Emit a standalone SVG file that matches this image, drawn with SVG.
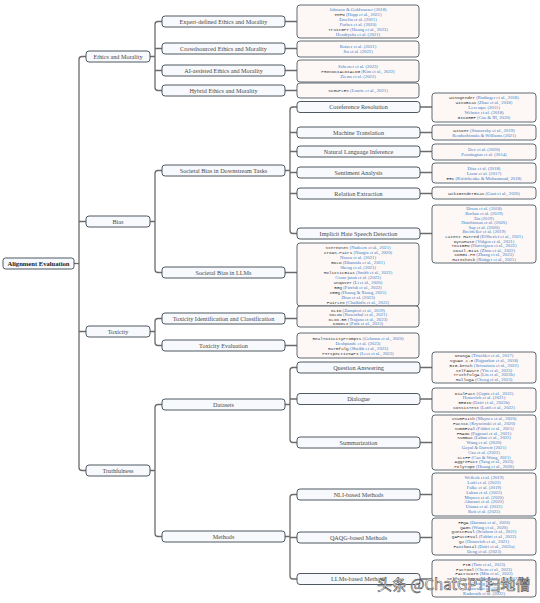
<svg xmlns="http://www.w3.org/2000/svg" width="540" height="603" viewBox="0 0 540 603">
<style>
.bg{fill:#ffffff}
.n rect{fill:#f7f9fc;stroke:#4e5963;stroke-width:1}
.lf rect{fill:#fdf8f6;stroke:#4e5963;stroke-width:0.9}
.t{font-family:"Liberation Serif",serif;font-size:6.2px;fill:#4a4a4a;text-anchor:middle}
.rt{font-family:"Liberation Serif",serif;font-size:6.6px;font-weight:bold;fill:#222;text-anchor:middle}
.lf text{font-family:"Liberation Serif",serif;font-size:4.7px;fill:#3a78c4;text-anchor:middle}
.m{font-family:"Liberation Mono",monospace;font-size:4.3px;fill:#333333}
.c path{fill:none;stroke:#6b6b6b;stroke-width:1.3}
.wm{font-family:"Noto Sans CJK SC","Liberation Sans",sans-serif;font-size:15px;fill:#ffffff;stroke:#555;stroke-width:0.6}
</style>
<rect class="bg" x="0" y="0" width="540" height="603"/>

<g class="c" id="connectors">
<path d="M74,263.5H79"/>
<path d="M86,56.5H82Q79,56.5 79,59.5V467.5Q79,470.5 82,470.5H86M79,221.5H86M79,331.5H86"/>
<path d="M150,56.5H155M162,21.5H158Q155,21.5 155,24.5V87.5Q155,90.5 158,90.5H162M155,48.5H162M155,70.5H162"/>
<path d="M150,221.5H155M162,170.5H158Q155,170.5 155,173.5V269.5Q155,272.5 158,272.5H162"/>
<path d="M150,331.5H155M162,318.5H158Q155,318.5 155,321.5V342.5Q155,345.5 158,345.5H162"/>
<path d="M150,470.5H155M162,404.5H158Q155,404.5 155,407.5V533.5Q155,536.5 158,536.5H162"/>
<path d="M285,21.5H297M285,48.5H297M285,70.5H297M285,90.5H297"/>
<path d="M285,170.5H290M297,107H293Q290,107 290,110V230.5Q290,233.5 293,233.5H297M290,132.5H297M290,151.5H297M290,172.5H297M290,193.5H297"/>
<path d="M285,272.5H297M285,318.5H297M285,345.5H297"/>
<path d="M285,404.5H290M297,367.5H293Q290,367.5 290,370.5V439.5Q290,442.5 293,442.5H297M290,399H297"/>
<path d="M285,536.5H290M297,494.5H293Q290,494.5 290,497.5V576Q290,579 293,579H297M290,537.5H297"/>
<path d="M420,107H432M420,132.5H432M420,151.5H432M420,172.5H432M420,193.5H432M420,233.5H432"/>
<path d="M420,367.5H432M420,399H432M420,442.5H432M420,494.5H432M420,537.5H432M420,579H432"/>
</g>

<g class="n" id="root"><rect x="3" y="258" width="71" height="11" rx="2.5"/><text class="rt" x="38.5" y="265.8">Alignment Evaluation</text></g>

<g class="n" id="ethics"><rect x="86" y="51" width="64" height="11" rx="3"/><text class="t" x="118" y="58.6">Ethics and Morality</text></g>
<g class="n" id="bias"><rect x="86" y="216" width="64" height="11" rx="3"/><text class="t" x="118" y="223.6">Bias</text></g>
<g class="n" id="toxicity"><rect x="86" y="326" width="64" height="11" rx="3"/><text class="t" x="118" y="333.6">Toxicity</text></g>
<g class="n" id="truthfulness"><rect x="86" y="465" width="64" height="11" rx="3"/><text class="t" x="118" y="472.6">Truthfulness</text></g>

<g class="n" id="expert"><rect x="162" y="16" width="123" height="11" rx="3"/><text class="t" x="223.5" y="23.6">Expert-defined Ethics and Morality</text></g>
<g class="n" id="crowd"><rect x="162" y="43" width="123" height="11" rx="3"/><text class="t" x="223.5" y="50.6">Crowdsourced Ethics and Morality</text></g>
<g class="n" id="ai"><rect x="162" y="65" width="123" height="11" rx="3"/><text class="t" x="223.5" y="72.6">AI-assisted Ethics and Morality</text></g>
<g class="n" id="hybrid"><rect x="162" y="85" width="123" height="11" rx="3"/><text class="t" x="223.5" y="92.6">Hybrid Ethics and Morality</text></g>
<g class="n" id="downstream"><rect x="162" y="165" width="123" height="11" rx="3"/><text class="t" x="223.5" y="172.6">Societal Bias in Downstream Tasks</text></g>
<g class="n" id="llmbias"><rect x="162" y="267" width="123" height="11" rx="3"/><text class="t" x="223.5" y="274.6">Societal Bias in LLMs</text></g>
<g class="n" id="toxid"><rect x="162" y="313" width="123" height="11" rx="3"/><text class="t" x="223.5" y="320.6">Toxicity Identification and Classification</text></g>
<g class="n" id="toxeval"><rect x="162" y="340" width="123" height="11" rx="3"/><text class="t" x="223.5" y="347.6">Toxicity Evaluation</text></g>
<g class="n" id="datasets"><rect x="162" y="399" width="123" height="11" rx="3"/><text class="t" x="223.5" y="406.6">Datasets</text></g>
<g class="n" id="methods"><rect x="162" y="531" width="123" height="11" rx="3"/><text class="t" x="223.5" y="538.6">Methods</text></g>

<g class="n" id="coref"><rect x="297" y="101.5" width="123" height="11" rx="3"/><text class="t" x="358.5" y="109.1">Coreference Resolution</text></g>
<g class="n" id="mt"><rect x="297" y="127" width="123" height="11" rx="3"/><text class="t" x="358.5" y="134.6">Machine Translation</text></g>
<g class="n" id="nli"><rect x="297" y="146" width="123" height="11" rx="3"/><text class="t" x="358.5" y="153.6">Natural Language Inference</text></g>
<g class="n" id="sentiment"><rect x="297" y="167" width="123" height="11" rx="3"/><text class="t" x="358.5" y="174.6">Sentiment Analysis</text></g>
<g class="n" id="relation"><rect x="297" y="188" width="123" height="11" rx="3"/><text class="t" x="358.5" y="195.6">Relation Extraction</text></g>
<g class="n" id="hate"><rect x="297" y="228" width="123" height="11" rx="3"/><text class="t" x="358.5" y="235.6">Implicit Hate Speech Detection</text></g>
<g class="n" id="qa"><rect x="297" y="362" width="123" height="11" rx="3"/><text class="t" x="358.5" y="369.6">Question Answering</text></g>
<g class="n" id="dialogue"><rect x="297" y="393.5" width="123" height="11" rx="3"/><text class="t" x="358.5" y="401.1">Dialogue</text></g>
<g class="n" id="summ"><rect x="297" y="437" width="123" height="11" rx="3"/><text class="t" x="358.5" y="444.6">Summarization</text></g>
<g class="n" id="nlim"><rect x="297" y="489" width="123" height="11" rx="3"/><text class="t" x="358.5" y="496.6">NLI-based Methods</text></g>
<g class="n" id="qaqg"><rect x="297" y="532" width="123" height="11" rx="3"/><text class="t" x="358.5" y="539.6">QAQG-based Methods</text></g>
<g class="n" id="llmm"><rect x="297" y="573.5" width="123" height="11" rx="3"/><text class="t" x="358.5" y="581.1">LLMs-based Methods</text></g>

<g class="lf" id="leaf-expert"><rect x="297" y="5" width="122" height="33" rx="3"/>
<text x="358" y="11">Johnson &amp; Goldwasser (2018)</text>
<text x="358" y="15.9"><tspan class="m">eMFD</tspan> (Hopp et al., 2021)</text>
<text x="358" y="20.8">Emelin et al. (2021)</text>
<text x="358" y="25.7">Forbes et al. (2020)</text>
<text x="358" y="30.6"><tspan class="m">TrustGPT</tspan> (Huang et al., 2023)</text>
<text x="358" y="35.5">Hendrycks et al. (2021)</text>
</g>
<g class="lf" id="leaf-crowd"><rect x="297" y="41" width="122" height="16" rx="3"/>
<text x="358" y="48.3">Botzer et al. (2021)</text>
<text x="358" y="53.2">Jin et al. (2022)</text>
</g>
<g class="lf" id="leaf-ai"><rect x="297" y="60" width="122" height="22" rx="3"/>
<text x="358" y="67.8">Scherrer et al. (2023)</text>
<text x="358" y="72.7"><tspan class="m">PROSOCIALDIALOG</tspan> (Kim et al., 2022)</text>
<text x="358" y="77.6">Ziems et al. (2022)</text>
</g>
<g class="lf" id="leaf-hybrid"><rect x="297" y="83" width="122" height="15" rx="3"/>
<text x="358" y="92.2"><tspan class="m">SCRUPLES</tspan> (Lourie et al., 2021)</text>
</g>

<g class="lf" id="leaf-coref"><rect x="432" y="93" width="104" height="29" rx="3"/>
<text x="484" y="99.4"><tspan class="m">Winogender</tspan> (Rudinger et al., 2018)</text>
<text x="484" y="104.3"><tspan class="m">WinoBias</tspan> (Zhao et al., 2018)</text>
<text x="484" y="109.2">Levesque (2011)</text>
<text x="484" y="114.1">Webster et al. (2018)</text>
<text x="484" y="119"><tspan class="m">GICOREF</tspan> (Cao &amp; III, 2020)</text>
</g>
<g class="lf" id="leaf-mt"><rect x="432" y="125" width="104" height="15" rx="3"/>
<text x="484" y="131.75"><tspan class="m">WinoMT</tspan> (Stanovsky et al., 2019)</text>
<text x="484" y="136.65">Renduchintala &amp; Williams (2021)</text>
</g>
<g class="lf" id="leaf-nli"><rect x="432" y="144" width="104" height="16" rx="3"/>
<text x="484" y="151.25">Dev et al. (2020)</text>
<text x="484" y="156.15">Pennington et al. (2014)</text>
</g>
<g class="lf" id="leaf-sent"><rect x="432" y="163" width="104" height="20" rx="3"/>
<text x="484" y="169.8">Díaz et al. (2018)</text>
<text x="484" y="174.7">Lazar et al. (2017)</text>
<text x="484" y="179.6"><tspan class="m">EEC</tspan> (Kiritchenko &amp; Mohammad, 2018)</text>
</g>
<g class="lf" id="leaf-rel"><rect x="432" y="187" width="104" height="12" rx="3"/>
<text x="484" y="194.7"><tspan class="m">WikiGenderBias</tspan> (Gaut et al., 2020)</text>
</g>
<g class="lf" id="leaf-hate"><rect x="432" y="205" width="104" height="58" rx="3"/>
<text x="484" y="210.3">Dixon et al. (2018)</text>
<text x="484" y="214.9">Borkan et al. (2019)</text>
<text x="484" y="219.5">Du (2019)</text>
<text x="484" y="224.1">Hutchinson et al. (2020)</text>
<text x="484" y="228.7">Sap et al. (2020)</text>
<text x="484" y="233.3">Breitfeller et al. (2019)</text>
<text x="484" y="237.9"><tspan class="m">Latent Hatred</tspan> (ElSherief et al., 2021)</text>
<text x="484" y="242.5"><tspan class="m">DynaHate</tspan> (Vidgen et al., 2021)</text>
<text x="484" y="247.1"><tspan class="m">TOXIGEN</tspan> (Hartvigsen et al., 2022)</text>
<text x="484" y="251.7"><tspan class="m">CDail-Bias</tspan> (Zhou et al., 2022)</text>
<text x="484" y="256.3"><tspan class="m">CORGI-PM</tspan> (Zhang et al., 2023)</text>
<text x="484" y="260.9"><tspan class="m">HateCheck</tspan> (Röttger et al., 2021)</text>
</g>
<g class="lf" id="leaf-llmbias"><rect x="297" y="243" width="122" height="63" rx="3"/>
<text x="358" y="248.7"><tspan class="m">StereoSet</tspan> (Nadeem et al., 2021)</text>
<text x="358" y="253.7"><tspan class="m">CrowS-Pairs</tspan> (Nangia et al., 2020)</text>
<text x="358" y="258.7">Nozza et al. (2021)</text>
<text x="358" y="263.7"><tspan class="m">BOLD</tspan> (Dhamala et al., 2021)</text>
<text x="358" y="268.7">Sheng et al. (2021)</text>
<text x="358" y="273.7"><tspan class="m">HolisticBias</tspan> (Smith et al., 2022)</text>
<text x="358" y="278.7">Costa-jussà et al. (2023)</text>
<text x="358" y="283.7"><tspan class="m">Unqover</tspan> (Li et al., 2020)</text>
<text x="358" y="288.7"><tspan class="m">BBQ</tspan> (Parrish et al., 2022)</text>
<text x="358" y="293.7"><tspan class="m">CBBQ</tspan> (Huang &amp; Xiong, 2023)</text>
<text x="358" y="298.7">Zhao et al. (2023)</text>
<text x="358" y="303.7"><tspan class="m">FairLex</tspan> (Chalkidis et al., 2022)</text>
</g>
<g class="lf" id="leaf-toxid"><rect x="297" y="306" width="122" height="21" rx="3"/>
<text x="358" y="311.5"><tspan class="m">OLID</tspan> (Zampieri et al., 2019)</text>
<text x="358" y="316"><tspan class="m">SOLID</tspan> (Rosenthal et al., 2021)</text>
<text x="358" y="320.5"><tspan class="m">OLID-BR</tspan> (Trajano et al., 2023)</text>
<text x="358" y="325"><tspan class="m">KODOLI</tspan> (Park et al., 2023)</text>
</g>
<g class="lf" id="leaf-toxeval"><rect x="297" y="333" width="122" height="25" rx="3"/>
<text x="358" y="339.7"><tspan class="m">RealToxicityPrompts</tspan> (Gehman et al., 2020)</text>
<text x="358" y="344.7">Deshpande et al. (2023)</text>
<text x="358" y="349.7"><tspan class="m">HarmfulQ</tspan> (Shaikh et al., 2023)</text>
<text x="358" y="354.7"><tspan class="m">PerspectiveAPI</tspan> (Lees et al., 2022)</text>
</g>

<g class="lf" id="leaf-qa"><rect x="432" y="352" width="104" height="31" rx="3"/>
<text x="484" y="357.2"><tspan class="m">NewsQA</tspan> (Trischler et al., 2017)</text>
<text x="484" y="362"><tspan class="m">SQuAD 2.0</tspan> (Rajpurkar et al., 2018)</text>
<text x="484" y="366.8"><tspan class="m">BIG-bench</tspan> (Srivastava et al., 2022)</text>
<text x="484" y="371.6"><tspan class="m">SelfAware</tspan> (Yin et al., 2023)</text>
<text x="484" y="376.4"><tspan class="m">TruthfulQA</tspan> (Lin et al., 2022b)</text>
<text x="484" y="381.2"><tspan class="m">HalluQA</tspan> (Cheng et al., 2023)</text>
</g>
<g class="lf" id="leaf-dialogue"><rect x="432" y="388" width="104" height="24" rx="3"/>
<text x="484" y="394.5"><tspan class="m">DialFact</tspan> (Gupta et al., 2022)</text>
<text x="484" y="399.3">Honovich et al. (2021)</text>
<text x="484" y="404.1"><tspan class="m">BEGIN</tspan> (Dziri et al., 2022b)</text>
<text x="484" y="408.9"><tspan class="m">ConsisTest</tspan> (Lotfi et al., 2022)</text>
</g>
<g class="lf" id="leaf-summ"><rect x="432" y="415" width="104" height="55" rx="3"/>
<text x="484" y="420.2"><tspan class="m">XSumFaith</tspan> (Maynez et al., 2020)</text>
<text x="484" y="425"><tspan class="m">FactCC</tspan> (Kryscinski et al., 2020)</text>
<text x="484" y="429.8"><tspan class="m">SummEval</tspan> (Fabbri et al., 2021)</text>
<text x="484" y="434.6"><tspan class="m">FRANK</tspan> (Pagnoni et al., 2021)</text>
<text x="484" y="439.4"><tspan class="m">SummaC</tspan> (Laban et al., 2022)</text>
<text x="484" y="444.2">Wang et al. (2020)</text>
<text x="484" y="449">Goyal &amp; Durrett (2021)</text>
<text x="484" y="453.8">Cao et al. (2022)</text>
<text x="484" y="458.6"><tspan class="m">CLIFF</tspan> (Cao &amp; Wang, 2021)</text>
<text x="484" y="463.4"><tspan class="m">AggreFact</tspan> (Tang et al., 2023)</text>
<text x="484" y="468.2"><tspan class="m">PolyTope</tspan> (Huang et al., 2020)</text>
</g>
<g class="lf" id="leaf-nlim"><rect x="432" y="473" width="104" height="43" rx="3"/>
<text x="484" y="479.4">Welleck et al. (2019)</text>
<text x="484" y="484.2">Lotfi et al. (2022)</text>
<text x="484" y="489">Falke et al. (2019)</text>
<text x="484" y="493.8">Laban et al. (2022)</text>
<text x="484" y="498.6">Maynez et al. (2020)</text>
<text x="484" y="503.4">Aharoni et al. (2022)</text>
<text x="484" y="508.2">Utama et al. (2022)</text>
<text x="484" y="513">Roit et al. (2023)</text>
</g>
<g class="lf" id="leaf-qaqg"><rect x="432" y="518" width="104" height="37" rx="3"/>
<text x="484" y="523.8"><tspan class="m">FEQA</tspan> (Durmus et al., 2020)</text>
<text x="484" y="528.6"><tspan class="m">QAGS</tspan> (Wang et al., 2020)</text>
<text x="484" y="533.4"><tspan class="m">QuestEval</tspan> (Scialom et al., 2021)</text>
<text x="484" y="538.2"><tspan class="m">QAFactEval</tspan> (Fabbri et al., 2022)</text>
<text x="484" y="543"><tspan class="m">Q2</tspan> (Honovich et al., 2021)</text>
<text x="484" y="547.8"><tspan class="m">FaithDial</tspan> (Dziri et al., 2022a)</text>
<text x="484" y="552.6">Deng et al. (2023)</text>
</g>
<g class="lf" id="leaf-llmm"><rect x="432" y="560" width="104" height="37" rx="3"/>
<text x="484" y="565.8"><tspan class="m">FIB</tspan> (Tam et al., 2023)</text>
<text x="484" y="570.6"><tspan class="m">FacTool</tspan> (Chern et al., 2023)</text>
<text x="484" y="575.4"><tspan class="m">FActScore</tspan> (Min et al., 2023)</text>
<text x="484" y="580.2"><tspan class="m">SelfCheckGPT</tspan> (Manakul et al., 2023)</text>
<text x="484" y="585"><tspan class="m">SAC3</tspan> (Zhang et al., 2023)</text>
<text x="484" y="589.8">Agrawal et al. (2023)</text>
<text x="484" y="594.6">Kadavath et al. (2022)</text>
</g>

<text class="wm" x="377" y="590">头条 @ChatGPT扫地僧</text>
</svg>
